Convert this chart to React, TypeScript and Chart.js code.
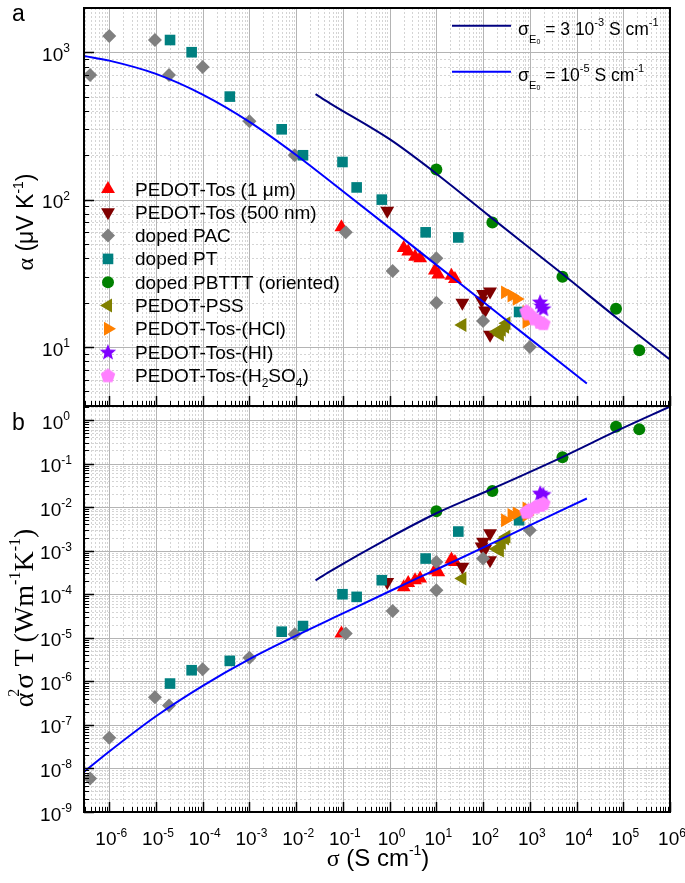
import React, { useEffect, useRef } from 'react';
import { Chart, registerables } from 'chart.js';
Chart.register(...registerables);

const W = 685;
const H = 883;

// ---------- data (σ in S cm^-1, α in µV K^-1, power factor α²σT in W m^-1 K^-2) ----------
const tos1Sigma = [0.093, 2.0, 2.5, 3.5, 4.5, 9.3, 11, 21, 25];
const tos1Alpha = [65, 47, 44.5, 41, 40, 33, 31, 30.5, 29];
const tos1PF = [1.25e-5, 1.45e-4, 1.8e-4, 2.1e-4, 2.3e-4, 3.5e-4, 3.2e-4, 6.3e-4, 5.5e-4];

const tos500Sigma = [0.89, 36, 93, 100, 141, 110, 141];
const tos500Alpha = [84, 20, 20.7, 22.9, 23.8, 17.7, 12.1];
const tos500PF = [1.9e-4, 4.3e-4, 1.25e-3, 1.6e-3, 2.5e-3, 1.1e-3, 6.0e-4];

const pacSigma = [3.9e-7, 1e-6, 9.5e-6, 1.9e-5, 1e-4, 1e-3, 9.3e-3, 0.115, 1.16, 10, 10, 100, 1000];
const pacAlpha = [700, 1290, 1210, 700, 794, 340, 200, 60, 32.8, 40, 20, 15, 10];
const pacPF = [5.9e-9, 5.1e-8, 4.3e-7, 2.8e-7, 1.9e-6, 3.5e-6, 1.2e-5, 1.26e-5, 4.1e-5, 5.5e-4, 1.23e-4, 6.6e-4, 2.95e-3];

const ptSigma = [2e-5, 5.8e-5, 3.8e-4, 4.9e-3, 0.014, 0.098, 0.197, 0.68, 5.9, 29.5, 590];
const ptAlpha = [1210, 1000, 500, 300, 200, 180, 121, 100, 60, 55.4, 17.3];
const ptPF = [8.9e-7, 1.8e-6, 2.95e-6, 1.38e-5, 1.86e-5, 1.0e-4, 8.7e-5, 2.1e-4, 6.6e-4, 2.75e-3, 5.0e-3];

const pbtttSigma = [10, 158, 5000, 7e4, 2.2e5];
const pbtttAlpha = [160, 70, 30, 18.2, 9.5];
const pbtttPF = [8.0e-3, 0.0235, 0.139, 0.70, 0.61];

const pssSigma = [36, 195, 229, 251, 295, 316];
const pssAlpha = [14.1, 12.7, 12.1, 13.1, 13.7, 14.5];
const pssPF = [2.3e-4, 1.1e-3, 1.0e-3, 1.5e-3, 1.9e-3, 2.1e-3];

const hclSigma = [295, 407, 525, 851, 851];
const hclAlpha = [23.5, 22.3, 21.2, 17.3, 14.8];
const hclPF = [5.0e-3, 6.6e-3, 7.2e-3, 9.3e-3, 6.6e-3];

const hiSigma = [1660, 1780, 1950];
const hiAlpha = [20.2, 19, 18.2];
const hiPF = [0.021, 0.019, 0.0195];

const h2so4Sigma = [850, 933, 1290, 1660, 1950];
const h2so4Alpha = [17.5, 16.9, 15.6, 14.8, 14.5];
const h2so4PF = [7.8e-3, 8.5e-3, 0.0102, 0.0112, 0.0123];

// model curves
const modelHighSigma = [0.026, 0.052, 1, 10, 141, 5250, 7.2e4, 1e6]; // σE0 = 3e-3
const modelHighAlpha = [520, 452, 257, 150, 76.7, 30.9, 15.8, 8.22];
const modelHighPF = [2.09e-4, 3.31e-4, 2.0e-3, 7.24e-3, 0.0251, 0.145, 0.562, 2.04];

const modelLowSigma = [2.88e-7, 1e-6, 1e-5, 1e-4, 1e-3, 1e-2, 1e-1, 1, 10, 100, 1000, 1.66e4]; // σE0 = 1e-5
const modelLowAlpha = [944, 877, 713, 516, 337, 201, 114, 64.3, 36.1, 20.3, 11.4, 5.66];
const modelLowPF = [8.3e-9, 2.45e-8, 1.58e-7, 7.9e-7, 3.24e-6, 1.12e-5, 3.63e-5, 1.17e-4, 3.7e-4, 1.17e-3, 3.8e-3, 1.58e-2];

// tick labels (exponents of 10)
const xTickExponents = [-6, -5, -4, -3, -2, -1, 0, 1, 2, 3, 4, 5, 6];
const alphaTickExponents = [1, 2, 3];
const pfTickExponents = [-9, -8, -7, -6, -5, -4, -3, -2, -1, 0];

const legendLabels = [
  'PEDOT-Tos (1 μm)',
  'PEDOT-Tos (500 nm)',
  'doped PAC',
  'doped PT',
  'doped PBTTT (oriented)',
  'PEDOT-PSS',
  'PEDOT-Tos-(HCl)',
  'PEDOT-Tos-(HI)',
  'PEDOT-Tos-(H2SO4)',
];

// ---------- layout ----------
const X_MIN = Math.pow(10, -6.54);
const X_MAX = 1e6;
const TOP_Y_MIN = Math.pow(10, 0.6);
const TOP_Y_MAX = Math.pow(10, 3.3);
const BOT_Y_MIN = 1e-9;
const BOT_Y_MAX = Math.pow(10, 0.322);
const PLOT_LEFT = 84;
const PLOT_RIGHT = 670;
const TOP_T = 1;
const MID = 406;
const BOT_B = 812;

const SANS = "'Liberation Sans', Arial, Helvetica, sans-serif";
const SERIF = "'Liberation Serif', 'Times New Roman', serif";

type Style = 'triangle' | 'rectRot' | 'rect' | 'circle' | 'star' | 'pentagon';
interface SeriesDef {
  label: string;
  sigma: number[];
  alpha: number[];
  pf: number[];
  color: string;
  style: Style;
  rot: number;
  r: number;
  order: number;
}

const seriesDefs: SeriesDef[] = [
  { label: legendLabels[0], sigma: tos1Sigma, alpha: tos1Alpha, pf: tos1PF, color: '#ff0000', style: 'triangle', rot: 0, r: 8, order: 10 },
  { label: legendLabels[1], sigma: tos500Sigma, alpha: tos500Alpha, pf: tos500PF, color: '#800000', style: 'triangle', rot: 180, r: 8, order: 9 },
  { label: legendLabels[2], sigma: pacSigma, alpha: pacAlpha, pf: pacPF, color: '#808080', style: 'rectRot', rot: 0, r: 7, order: 8 },
  { label: legendLabels[3], sigma: ptSigma, alpha: ptAlpha, pf: ptPF, color: '#008080', style: 'rect', rot: 0, r: 7.5, order: 7 },
  { label: legendLabels[4], sigma: pbtttSigma, alpha: pbtttAlpha, pf: pbtttPF, color: '#008000', style: 'circle', rot: 0, r: 6, order: 6 },
  { label: legendLabels[5], sigma: pssSigma, alpha: pssAlpha, pf: pssPF, color: '#808000', style: 'triangle', rot: -90, r: 8, order: 5 },
  { label: legendLabels[6], sigma: hclSigma, alpha: hclAlpha, pf: hclPF, color: '#ff8000', style: 'triangle', rot: 90, r: 8, order: 4 },
  { label: legendLabels[7], sigma: hiSigma, alpha: hiAlpha, pf: hiPF, color: '#8000ff', style: 'star', rot: 0, r: 8, order: 3 },
  { label: legendLabels[8], sigma: h2so4Sigma, alpha: h2so4Alpha, pf: h2so4PF, color: '#ff80ff', style: 'pentagon', rot: 0, r: 7.5, order: 2 },
];

// ---------- helpers ----------
function makeShapeImage(kind: 'star' | 'pentagon', color: string): HTMLCanvasElement {
  const size = kind === 'star' ? 18 : 16;
  const c = document.createElement('canvas');
  c.width = size;
  c.height = size;
  const ctx = c.getContext('2d')!;
  ctx.fillStyle = color;
  ctx.beginPath();
  const cx = size / 2;
  const cy = size / 2 + 0.5;
  if (kind === 'star') {
    const ro = 8.6, ri = 3.7;
    for (let i = 0; i < 10; i++) {
      const a = -Math.PI / 2 + (i * Math.PI) / 5;
      const rr = i % 2 === 0 ? ro : ri;
      const px = cx + rr * Math.cos(a);
      const py = cy + rr * Math.sin(a);
      if (i === 0) ctx.moveTo(px, py);
      else ctx.lineTo(px, py);
    }
  } else {
    const ro = 7.6;
    for (let i = 0; i < 5; i++) {
      const a = -Math.PI / 2 + (i * 2 * Math.PI) / 5;
      const px = cx + ro * Math.cos(a);
      const py = cy + ro * Math.sin(a);
      if (i === 0) ctx.moveTo(px, py);
      else ctx.lineTo(px, py);
    }
  }
  ctx.closePath();
  ctx.fill();
  return c;
}

interface Run { t: string; size: number; serif?: boolean; dy?: number; dx?: number }
function fontOf(r: Run) {
  return `${r.size}px ${r.serif ? SERIF : SANS}`;
}
function runsWidth(ctx: CanvasRenderingContext2D, runs: Run[]) {
  let w = 0;
  for (const r of runs) {
    ctx.font = fontOf(r);
    w += ctx.measureText(r.t).width + (r.dx || 0);
  }
  return w;
}
function drawRuns(ctx: CanvasRenderingContext2D, runs: Run[], x: number, y: number, align: 'left' | 'center') {
  let cx = align === 'center' ? x - runsWidth(ctx, runs) / 2 : x;
  ctx.textAlign = 'left';
  ctx.textBaseline = 'alphabetic';
  for (const r of runs) {
    ctx.font = fontOf(r);
    cx += r.dx || 0;
    ctx.fillText(r.t, cx, y + (r.dy || 0));
    cx += ctx.measureText(r.t).width;
  }
}
function powRuns(exp: number): Run[] {
  return [
    { t: '10', size: 19 },
    { t: String(exp), size: 12, dy: -8.5 },
  ];
}

function drawMarker(ctx: CanvasRenderingContext2D, def: SeriesDef, x: number, y: number, imgs: Record<string, HTMLCanvasElement>) {
  ctx.save();
  ctx.fillStyle = def.color;
  const r = def.r;
  if (def.style === 'star' || def.style === 'pentagon') {
    const img = imgs[def.style];
    ctx.drawImage(img, x - img.width / 2, y - img.height / 2);
    ctx.restore();
    return;
  }
  ctx.beginPath();
  if (def.style === 'triangle') {
    let rad = (def.rot * Math.PI) / 180;
    for (let i = 0; i < 3; i++) {
      const px = x + Math.sin(rad) * r;
      const py = y - Math.cos(rad) * r;
      if (i === 0) ctx.moveTo(px, py);
      else ctx.lineTo(px, py);
      rad += (2 * Math.PI) / 3;
    }
  } else if (def.style === 'rectRot') {
    ctx.moveTo(x, y - r);
    ctx.lineTo(x + r, y);
    ctx.lineTo(x, y + r);
    ctx.lineTo(x - r, y);
  } else if (def.style === 'rect') {
    const s = r * Math.SQRT1_2;
    ctx.rect(x - s, y - s, 2 * s, 2 * s);
  } else {
    ctx.arc(x, y, r, 0, Math.PI * 2);
  }
  ctx.closePath();
  ctx.fill();
  ctx.restore();
}

function logValues(min: number, max: number) {
  const out: { v: number; major: boolean }[] = [];
  for (let d = -10; d <= 7; d++) {
    for (let m = 1; m <= 9; m++) {
      const v = m * Math.pow(10, d);
      if (v >= min * 0.9999 && v <= max * 1.0001) out.push({ v, major: m === 1 });
    }
  }
  return out;
}

function makePanelPlugin(panel: 'top' | 'bottom', imgs: Record<string, HTMLCanvasElement>) {
  return {
    id: 'panel-' + panel,
    beforeDatasetsDraw(chart: any) {
      const ctx: CanvasRenderingContext2D = chart.ctx;
      const xs = chart.scales.x;
      const ys = chart.scales.y;
      const a = chart.chartArea;
      ctx.save();
      ctx.lineWidth = 1;
      ctx.strokeStyle = '#d4d4d4';
      ctx.setLineDash([2, 2]);
      for (const t of logValues(xs.min, xs.max)) {
        if (t.major) continue;
        const px = Math.round(xs.getPixelForValue(t.v)) + 0.5;
        ctx.beginPath();
        ctx.moveTo(px, a.top);
        ctx.lineTo(px, a.bottom);
        ctx.stroke();
      }
      for (const t of logValues(ys.min, ys.max)) {
        if (t.major) continue;
        const py = Math.round(ys.getPixelForValue(t.v)) + 0.5;
        ctx.beginPath();
        ctx.moveTo(a.left, py);
        ctx.lineTo(a.right, py);
        ctx.stroke();
      }
      ctx.setLineDash([]);
      ctx.strokeStyle = '#b4b4b4';
      for (const t of logValues(xs.min, xs.max)) {
        if (!t.major) continue;
        const px = Math.round(xs.getPixelForValue(t.v)) + 0.5;
        ctx.beginPath();
        ctx.moveTo(px, a.top);
        ctx.lineTo(px, a.bottom);
        ctx.stroke();
      }
      for (const t of logValues(ys.min, ys.max)) {
        if (!t.major) continue;
        const py = Math.round(ys.getPixelForValue(t.v)) + 0.5;
        ctx.beginPath();
        ctx.moveTo(a.left, py);
        ctx.lineTo(a.right, py);
        ctx.stroke();
      }
      ctx.restore();
    },
    afterDraw(chart: any) {
      const ctx: CanvasRenderingContext2D = chart.ctx;
      const xs = chart.scales.x;
      const ys = chart.scales.y;
      const a = chart.chartArea;
      ctx.save();
      ctx.strokeStyle = '#000';
      for (const t of logValues(xs.min, xs.max)) {
        const px = Math.round(xs.getPixelForValue(t.v)) + 0.5;
        ctx.lineWidth = t.major ? 1.5 : 1;
        ctx.beginPath();
        ctx.moveTo(px, a.bottom);
        ctx.lineTo(px, a.bottom - (t.major ? 10 : 5));
        ctx.stroke();
      }
      for (const t of logValues(ys.min, ys.max)) {
        const py = Math.round(ys.getPixelForValue(t.v)) + 0.5;
        ctx.lineWidth = t.major ? 1.5 : 1;
        ctx.beginPath();
        ctx.moveTo(a.left, py);
        ctx.lineTo(a.left + (t.major ? 10 : 5), py);
        ctx.stroke();
      }
      ctx.lineWidth = 2;
      ctx.strokeRect(a.left, a.top, a.right - a.left, a.bottom - a.top);

      ctx.fillStyle = '#000';
      const yExps = panel === 'top' ? alphaTickExponents : pfTickExponents;
      for (const e of yExps) {
        const py = ys.getPixelForValue(Math.pow(10, e));
        drawRuns(ctx, powRuns(e), 56, py + 8.5, 'center');
      }
      if (panel === 'bottom') {
        for (const e of xTickExponents) {
          const px = xs.getPixelForValue(Math.pow(10, e));
          drawRuns(ctx, powRuns(e), px + 2, 845, 'center');
        }
        drawRuns(
          ctx,
          [
            { t: 'σ', size: 24, serif: true },
            { t: ' (S cm', size: 24 },
            { t: '-1', size: 14, dy: -11 },
            { t: ')', size: 24 },
          ],
          378,
          866,
          'center'
        );
        ctx.save();
        ctx.translate(33, 618);
        ctx.rotate(-Math.PI / 2);
        drawRuns(
          ctx,
          [
            { t: 'α', size: 28, serif: true },
            { t: '2', size: 16, serif: true, dy: -14, dx: -4 },
            { t: 'σ T (Wm', size: 28, serif: true },
            { t: '-1', size: 16, serif: true, dy: -13 },
            { t: 'K', size: 28, serif: true },
            { t: '-1', size: 16, serif: true, dy: -13 },
            { t: ')', size: 28, serif: true },
          ],
          0,
          0,
          'center'
        );
        ctx.restore();
        ctx.font = `23px ${SANS}`;
        ctx.textAlign = 'left';
        ctx.textBaseline = 'alphabetic';
        ctx.fillText('b', 12, 430);
      } else {
        ctx.save();
        ctx.translate(33, 222);
        ctx.rotate(-Math.PI / 2);
        drawRuns(
          ctx,
          [
            { t: 'α', size: 24, serif: true },
            { t: ' (μV K', size: 23 },
            { t: '-1', size: 14, dy: -10 },
            { t: ')', size: 23 },
          ],
          0,
          0,
          'center'
        );
        ctx.restore();
        ctx.font = `23px ${SANS}`;
        ctx.textAlign = 'left';
        ctx.textBaseline = 'alphabetic';
        ctx.fillText('a', 12, 21);

        const rowY0 = 189;
        const step = 23.3;
        seriesDefs.forEach((def, i) => {
          const y = rowY0 + i * step;
          drawMarker(ctx, def, 108, y, imgs);
          ctx.fillStyle = '#000';
          if (def.label.indexOf('H2SO4') >= 0) {
            drawRuns(
              ctx,
              [
                { t: 'PEDOT-Tos-(H', size: 19 },
                { t: '2', size: 12, dy: 5 },
                { t: 'SO', size: 19 },
                { t: '4', size: 12, dy: 5 },
                { t: ')', size: 19 },
              ],
              135,
              y + 6.5,
              'left'
            );
          } else {
            drawRuns(ctx, [{ t: def.label, size: 19 }], 135, y + 6.5, 'left');
          }
        });

        const lines = [
          { color: '#000080', y: 25.7, runs: [
            { t: 'σ', size: 18 }, { t: 'E', size: 11, dy: 8 }, { t: '0', size: 7, dy: 9 },
            { t: ' = 3 10', size: 17.5 }, { t: '-3', size: 11, dy: -9 },
            { t: ' S cm', size: 17.5 }, { t: '-1', size: 11, dy: -9 },
          ] as Run[] },
          { color: '#0000ff', y: 71.7, runs: [
            { t: 'σ', size: 18 }, { t: 'E', size: 11, dy: 8 }, { t: '0', size: 7, dy: 9 },
            { t: ' = 10', size: 17.5 }, { t: '-5', size: 11, dy: -9 },
            { t: ' S cm', size: 17.5 }, { t: '-1', size: 11, dy: -9 },
          ] as Run[] },
        ];
        for (const l of lines) {
          ctx.strokeStyle = l.color;
          ctx.lineWidth = 2;
          ctx.beginPath();
          ctx.moveTo(452, l.y);
          ctx.lineTo(511, l.y);
          ctx.stroke();
          ctx.fillStyle = '#000';
          drawRuns(ctx, l.runs, 518, l.y + 9.5, 'left');
        }
      }
      ctx.restore();
    },
  };
}

function buildConfig(panel: 'top' | 'bottom', imgs: Record<string, HTMLCanvasElement>): any {
  const isTop = panel === 'top';
  const lineDs = [
    {
      label: 'σE0 = 3 10-3 S cm-1',
      data: modelHighSigma.map((s, i) => ({ x: s, y: isTop ? modelHighAlpha[i] : modelHighPF[i] })),
      color: '#000080',
    },
    {
      label: 'σE0 = 10-5 S cm-1',
      data: modelLowSigma.map((s, i) => ({ x: s, y: isTop ? modelLowAlpha[i] : modelLowPF[i] })),
      color: '#0000ff',
    },
  ].map((d) => ({
    type: 'scatter',
    label: d.label,
    data: d.data,
    showLine: true,
    borderColor: d.color,
    backgroundColor: d.color,
    borderWidth: 2,
    pointRadius: 0,
    cubicInterpolationMode: 'monotone',
    order: 0,
  }));
  const markerDs = seriesDefs.map((def) => ({
    type: 'scatter',
    label: def.label,
    data: def.sigma.map((s, i) => ({ x: s, y: isTop ? def.alpha[i] : def.pf[i] })),
    backgroundColor: def.color,
    borderColor: def.color,
    borderWidth: 0,
    pointBorderWidth: 0,
    pointRadius: def.r,
    pointStyle: def.style === 'star' || def.style === 'pentagon' ? imgs[def.style] : def.style,
    rotation: def.rot,
    order: def.order,
  }));
  return {
    type: 'scatter',
    data: { datasets: [...lineDs, ...markerDs] },
    options: {
      responsive: false,
      animation: false,
      devicePixelRatio: 1,
      events: [],
      layout: { padding: { left: 0, right: W - PLOT_RIGHT, top: isTop ? TOP_T : MID, bottom: 0 } },
      plugins: { legend: { display: false }, tooltip: { enabled: false }, title: { display: false } },
      scales: {
        x: {
          type: 'logarithmic',
          min: X_MIN,
          max: X_MAX,
          position: 'bottom',
          grid: { display: false },
          border: { display: false },
          ticks: { display: false },
          title: { display: false },
          afterFit: (s: any) => {
            s.height = isTop ? H - MID : H - BOT_B;
          },
        },
        y: {
          type: 'logarithmic',
          min: isTop ? TOP_Y_MIN : BOT_Y_MIN,
          max: isTop ? TOP_Y_MAX : BOT_Y_MAX,
          position: 'left',
          grid: { display: false },
          border: { display: false },
          ticks: { display: false },
          title: { display: false },
          afterFit: (s: any) => {
            s.width = PLOT_LEFT;
          },
        },
      },
    },
    plugins: [makePanelPlugin(panel, imgs)],
  };
}

export default function App() {
  const topRef = useRef<HTMLCanvasElement>(null);
  const botRef = useRef<HTMLCanvasElement>(null);
  useEffect(() => {
    const imgs = {
      star: makeShapeImage('star', '#8000ff'),
      pentagon: makeShapeImage('pentagon', '#ff80ff'),
    };
    const c1 = new Chart(topRef.current as HTMLCanvasElement, buildConfig('top', imgs));
    const c2 = new Chart(botRef.current as HTMLCanvasElement, buildConfig('bottom', imgs));
    return () => {
      c1.destroy();
      c2.destroy();
    };
  }, []);
  return (
    <div style={{ position: 'absolute', left: 0, top: 0, width: W, height: H, background: '#ffffff', overflow: 'hidden' }}>
      <canvas ref={topRef} width={W} height={H} style={{ position: 'absolute', left: 0, top: 0 }} />
      <canvas ref={botRef} width={W} height={H} style={{ position: 'absolute', left: 0, top: 0 }} />
    </div>
  );
}
